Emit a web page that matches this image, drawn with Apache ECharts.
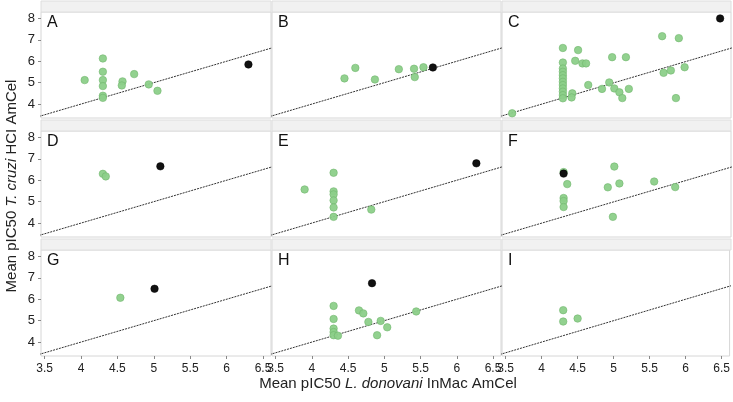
<!DOCTYPE html>
<html><head><meta charset="utf-8">
<script src="https://cdn.jsdelivr.net/npm/echarts@6/dist/echarts.min.js"></script>
<style>html,body{margin:0;padding:0;background:#fff}#c{width:733px;height:402px}</style>
</head><body><div id="c"></div><script>
const panelLabels = ['A','B','C','D','E','F','G','H','I'];
const xTicks = [3.5, 4, 4.5, 5, 5.5, 6, 6.5];
const yTicks = [4, 5, 6, 7, 8];
const refLine = [3.3, 8.3];

const greenA = [[4.05,5.12],[4.30,6.13],[4.30,5.51],[4.30,5.12],[4.30,4.84],[4.30,4.39],[4.30,4.29],[4.57,5.06],[4.56,4.87],[4.73,5.40],[4.93,4.92],[5.05,4.62]];
const blackA = [[6.30,5.85]];
const greenB = [[4.45,5.20],[4.60,5.69],[4.87,5.15],[5.20,5.63],[5.41,5.65],[5.42,5.26],[5.54,5.72]];
const blackB = [[5.67,5.71]];
const greenC = [[3.59,3.57],[4.29,6.62],[4.29,5.94],[4.29,5.66],[4.29,5.51],[4.29,5.35],[4.29,5.20],[4.29,5.04],[4.29,4.89],[4.29,4.73],[4.29,4.58],[4.29,4.42],[4.29,4.27],[4.42,4.50],[4.41,4.31],[4.50,6.52],[4.46,6.02],[4.56,5.90],[4.61,5.90],[4.64,4.89],[4.83,4.71],[4.93,5.01],[4.97,6.19],[5.00,4.73],[5.07,4.55],[5.11,4.28],[5.16,6.19],[5.20,4.71],[5.66,7.17],[5.68,5.46],[5.78,5.57],[5.85,4.28],[5.89,7.08],[5.97,5.72]];
const blackC = [[6.46,8.00]];
const greenD = [[4.30,6.30],[4.34,6.18]];
const blackD = [[5.09,6.65]];
const greenE = [[3.90,5.57],[4.30,6.35],[4.30,5.48],[4.30,5.34],[4.30,5.06],[4.30,4.73],[4.30,4.29],[4.82,4.63]];
const blackE = [[6.27,6.79]];
const greenF = [[4.30,6.38],[4.35,5.82],[4.30,5.17],[4.30,5.03],[4.30,4.75],[4.91,5.67],[5.00,6.64],[5.07,5.85],[4.98,4.29],[5.55,5.94],[5.84,5.68]];
const blackF = [[4.30,6.31]];
const greenG = [[4.54,6.07]];
const blackG = [[5.01,6.49]];
const greenH = [[4.30,5.69],[4.30,5.08],[4.30,4.63],[4.30,4.47],[4.30,4.32],[4.36,4.30],[4.65,5.48],[4.71,5.34],[4.78,4.94],[4.90,4.32],[4.95,4.99],[5.04,4.69],[5.44,5.43]];
const blackH = [[4.83,6.75]];
const greenI = [[4.30,5.49],[4.30,4.96],[4.50,5.10]];
const blackI = [];

const greens = [greenA,greenB,greenC,greenD,greenE,greenF,greenG,greenH,greenI];
const blacks = [blackA,blackB,blackC,blackD,blackE,blackF,blackG,blackH,blackI];

const colLeft = [41, 272, 502];
const colWidth = [230, 229, 229];
const rowTop = [12, 131, 250];
const plotH = 106;
const stripH = 11;
const font = 'Liberation Sans, Arial, sans-serif';

const grids = [], xAxes = [], yAxes = [], series = [], graphics = [];
for (let i = 0; i < 9; i++) {
  const r = Math.floor(i / 3), c = i % 3;
  const bottom = r === 2, left = c === 0;
  grids.push({left: colLeft[c], top: rowTop[r], width: colWidth[c], height: plotH,
    show: true, borderColor: '#d6d6d6', borderWidth: 1, backgroundColor: '#fff', containLabel: false});
  xAxes.push({gridIndex: i, type: 'value', min: 3.45, max: 6.61,
    splitLine: {show: false}, axisLine: {show: false},
    axisTick: {show: bottom, customValues: xTicks, length: 3, lineStyle: {color: '#888'}},
    axisLabel: {show: bottom, customValues: xTicks, fontSize: 12, color: '#222', margin: 7, fontFamily: font}});
  yAxes.push({gridIndex: i, type: 'value', min: 3.35, max: 8.3,
    splitLine: {show: false}, axisLine: {show: false},
    axisTick: {show: left, customValues: yTicks, length: 3, lineStyle: {color: '#888'}},
    axisLabel: {show: left, customValues: yTicks, fontSize: 13, color: '#222', margin: 6, fontFamily: font}});
  series.push({type: 'line', xAxisIndex: i, yAxisIndex: i, data: refLine.map(v => [v, v]),
    showSymbol: false, clip: true, silent: true, z: 1,
    lineStyle: {color: '#333', width: 1, type: [2, 1]}});
  series.push({type: 'scatter', xAxisIndex: i, yAxisIndex: i, data: greens[i], symbolSize: 7.5, z: 2,
    itemStyle: {color: '#8ccf89', borderColor: '#6fb56c', borderWidth: 0.6, opacity: 0.95}});
  series.push({type: 'scatter', xAxisIndex: i, yAxisIndex: i, data: blacks[i], symbolSize: 7.5, z: 3,
    itemStyle: {color: '#111', borderColor: '#000', borderWidth: 0.5, opacity: 1}});
  graphics.push({type: 'rect', shape: {x: colLeft[c], y: rowTop[r] - stripH, width: colWidth[c], height: stripH},
    style: {fill: '#f1f1f1', stroke: '#dedede', lineWidth: 1}, z: 10});
  graphics.push({type: 'text', left: colLeft[c] + 6, top: rowTop[r] + 3,
    style: {text: panelLabels[i], fontSize: 16, fill: '#111', fontFamily: font}, z: 11});
}
graphics.push({type: 'text', x: 388, y: 384,
  style: {text: '{n|Mean pIC50 }{i|L. donovani}{n| InMac AmCel}', align: 'center', verticalAlign: 'middle',
    rich: {n: {fontSize: 15, fontFamily: font, fill: '#222'}, i: {fontSize: 15, fontFamily: font, fontStyle: 'italic', fill: '#222'}}}, z: 11});
graphics.push({type: 'text', x: 12, y: 186, rotation: Math.PI / 2,
  style: {text: '{n|Mean pIC50 }{i|T. cruzi}{n| HCI AmCel}', align: 'center', verticalAlign: 'middle',
    rich: {n: {fontSize: 15, fontFamily: font, fill: '#222'}, i: {fontSize: 15, fontFamily: font, fontStyle: 'italic', fill: '#222'}}}, z: 11});

const chart = echarts.init(document.getElementById('c'), null, {renderer: 'canvas'});
chart.setOption({animation: false, backgroundColor: '#fff', grid: grids, xAxis: xAxes, yAxis: yAxes, series: series, graphic: graphics});
</script></body></html>
